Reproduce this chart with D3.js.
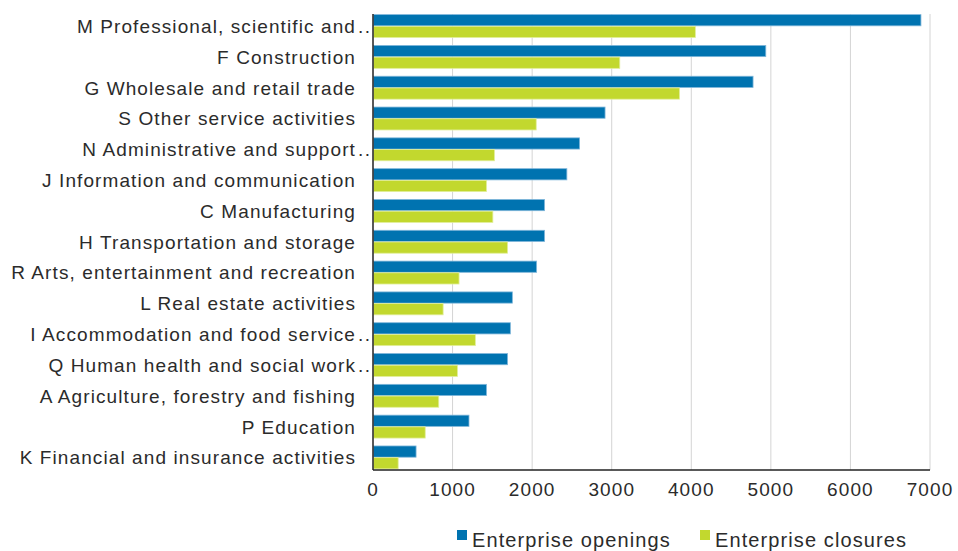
<!DOCTYPE html>
<html>
<head>
<meta charset="utf-8">
<script src="https://cdn.jsdelivr.net/npm/d3@7"></script>
<style>
  body { margin: 0; background: #fff; }
  text { font-family: "Liberation Sans", Arial, sans-serif; fill: #2b2b2b; }
</style>
</head>
<body>
<svg id="chart" width="958" height="551"></svg>
<script>
// ===== Data =====
const categories = [
    'M Professional, scientific and',
    'F Construction',
    'G Wholesale and retail trade',
    'S Other service activities',
    'N Administrative and support',
    'J Information and communication',
    'C Manufacturing',
    'H Transportation and storage',
    'R Arts, entertainment and recreation',
    'L Real estate activities',
    'I Accommodation and food service',
    'Q Human health and social work',
    'A Agriculture, forestry and fishing',
    'P Education',
    'K Financial and insurance activities'
];
// labels cut short in the original get trailing dots
const truncated = [true, false, false, false, true, false, false, false, false, false, true, true, false, false, false];

const openings = [6880, 4930, 4770, 2910, 2590, 2430, 2150, 2150, 2050, 1745, 1720, 1685, 1420, 1200, 535];
const closures = [4045, 3095, 3845, 2045, 1520, 1420, 1500, 1685, 1075, 875, 1280, 1055, 820, 650, 310];

const seriesNames = ['Enterprise openings', 'Enterprise closures'];
const xTicks = [0, 1000, 2000, 3000, 4000, 5000, 6000, 7000];

// ===== Layout =====
const W = 958, H = 551;
const margin = { top: 14, right: 28, bottom: 81, left: 373 };
const colors = ['#0073b0', '#c2d82e'];
const strokes = ['#7fb6da', '#e2ee9a'];

const svg = d3.select('#chart');
const plot = svg.append('g').attr('transform', `translate(${margin.left},${margin.top})`);
const innerW = W - margin.left - margin.right;
const innerH = H - margin.top - margin.bottom;

const x = d3.scaleLinear().domain([0, 7000]).range([0, innerW]);
const y = d3.scaleBand().domain(categories).range([0, innerH]).paddingInner(0.24).paddingOuter(0.02);
const ySub = d3.scaleBand().domain([0, 1]).range([0, y.bandwidth()]);

// Vertical gridlines
plot.selectAll('line.grid')
    .data(xTicks.slice(1))
    .enter().append('line')
    .attr('x1', d => x(d)).attr('x2', d => x(d))
    .attr('y1', 0).attr('y2', innerH)
    .style('stroke', '#d4d4d4')
    .style('stroke-width', '1px');

// Bars
const rows = categories.map((c, i) => ({ cat: c, vals: [openings[i], closures[i]] }));
const rowG = plot.selectAll('g.row')
    .data(rows)
    .enter().append('g')
    .attr('transform', d => `translate(0,${y(d.cat)})`);

rowG.selectAll('rect')
    .data(d => d.vals.map((v, k) => ({ v, k })))
    .enter().append('rect')
    .attr('x', 0.5)
    .attr('y', d => ySub(d.k))
    .attr('width', d => x(d.v))
    .attr('height', ySub.bandwidth() - 0.5)
    .style('fill', d => colors[d.k])
    .style('stroke', d => strokes[d.k])
    .style('stroke-width', '0.8px');

// Axis lines
plot.append('line')
    .attr('x1', 0).attr('x2', 0).attr('y1', 0).attr('y2', innerH)
    .style('stroke', '#222').style('stroke-width', '1.5px');
plot.append('line')
    .attr('x1', 0).attr('x2', innerW).attr('y1', innerH).attr('y2', innerH)
    .style('stroke', '#222').style('stroke-width', '1.5px');

// Category labels
const labelG = plot.selectAll('g.lab')
    .data(categories)
    .enter().append('g')
    .attr('transform', d => `translate(0,${y(d) + y.bandwidth() / 2})`);

labelG.append('text')
    .attr('x', -17)
    .attr('dy', '0.35em')
    .attr('text-anchor', 'end')
    .style('font-size', '19px')
    .style('letter-spacing', '1.1px')
    .text(d => d);

labelG.filter((d, i) => truncated[i]).append('text')
    .attr('x', -15)
    .attr('dy', '0.35em')
    .style('font-size', '19px')
    .style('letter-spacing', '1.5px')
    .text('..');

// X tick labels
plot.selectAll('text.tick')
    .data(xTicks)
    .enter().append('text')
    .attr('x', d => x(d))
    .attr('y', innerH + 26)
    .attr('text-anchor', 'middle')
    .style('font-size', '19px')
    .style('letter-spacing', '1.1px')
    .text(d => d);

// Legend
const legend = svg.append('g').attr('transform', 'translate(457,547)');
const legX = [0, 243];
seriesNames.forEach((name, k) => {
    const g = legend.append('g').attr('transform', `translate(${legX[k]},0)`);
    g.append('rect')
        .attr('x', 0).attr('y', -17)
        .attr('width', 10).attr('height', 10)
        .style('fill', colors[k]);
    g.append('text')
        .attr('x', 15)
        .style('font-size', '20px')
        .style('letter-spacing', '1.1px')
        .text(name);
});
</script>
</body>
</html>
